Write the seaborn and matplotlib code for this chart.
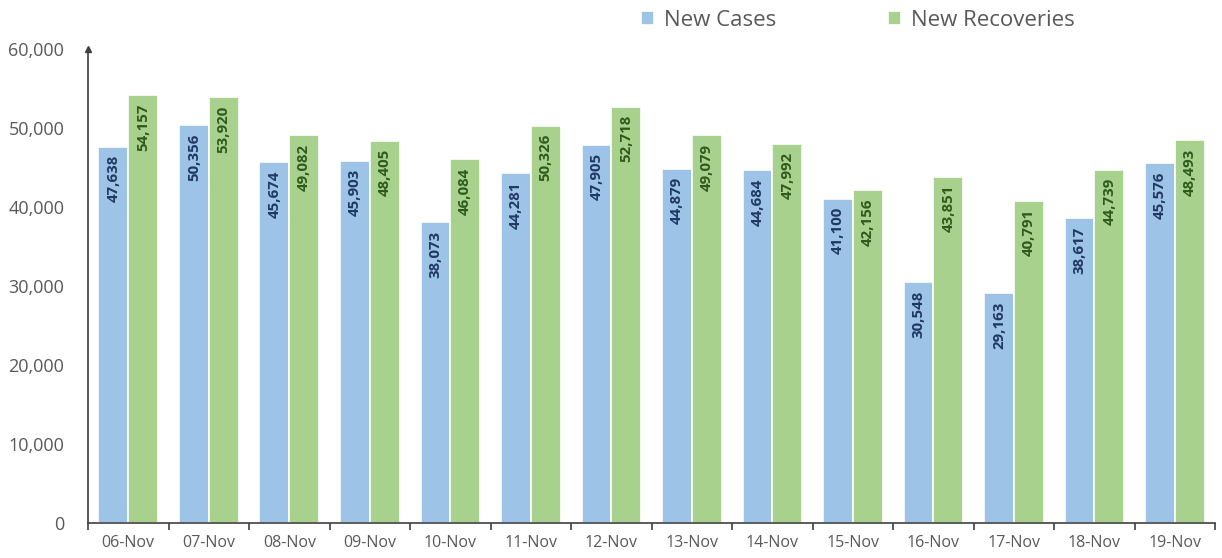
import matplotlib
matplotlib.use("Agg")
import matplotlib.pyplot as plt
import seaborn as sns
import pandas as pd

dates = ["06-Nov", "07-Nov", "08-Nov", "09-Nov", "10-Nov", "11-Nov", "12-Nov",
         "13-Nov", "14-Nov", "15-Nov", "16-Nov", "17-Nov", "18-Nov", "19-Nov"]
new_cases = [47638, 50356, 45674, 45903, 38073, 44281, 47905,
             44879, 44684, 41100, 30548, 29163, 38617, 45576]
new_recoveries = [54157, 53920, 49082, 48405, 46084, 50326, 52718,
                  49079, 47992, 42156, 43851, 40791, 44739, 48493]
series_names = ["New Cases", "New Recoveries"]
y_ticks = [0, 10000, 20000, 30000, 40000, 50000, 60000]

sns.set_theme(style="white")
plt.rcParams['font.family'] = ['Open Sans', 'DejaVu Sans']

df = pd.DataFrame({
    "date": dates * 2,
    "value": new_cases + new_recoveries,
    "series": [series_names[0]] * len(dates) + [series_names[1]] * len(dates),
})

bar_colors = ["#9DC3E6", "#A9D18E"]
text_colors = ["#1F3864", "#2E5A1C"]

fig = plt.figure(figsize=(12.22, 5.58), dpi=100)
ax = fig.add_axes([0.072, 0.062, 0.9225, 0.85])
sns.barplot(data=df, x="date", y="value", hue="series", palette=bar_colors,
            width=0.74, edgecolor="white", linewidth=1.2, ax=ax, legend=True,
            saturation=1)

for container, tc in zip(ax.containers, text_colors):
    labels = [f"{v:,.0f}" for v in container.datavalues]
    ax.bar_label(container, labels=labels, label_type="edge", padding=-6,
                 rotation=90, color=tc, fontsize=10.8, fontweight="bold")
    for t in ax.texts[-len(labels):]:
        t.set_va("top")

ax.set_ylim(0, 60000)
ax.set_xlim(-0.5, len(dates) - 0.5)
ax.set_yticks(y_ticks)
ax.set_yticklabels([f"{v:,}" for v in y_ticks])
ax.set_xlabel("")
ax.set_ylabel("")
for s in ["top", "right"]:
    ax.spines[s].set_visible(False)
for s in ["left", "bottom"]:
    ax.spines[s].set_color("#404040")
    ax.spines[s].set_linewidth(1.2)
ax.tick_params(axis="y", length=0, labelsize=13, labelcolor="#595959", pad=17)
ax.tick_params(axis="x", which="major", length=0, labelsize=11.5, labelcolor="#595959", pad=8)
# category separator ticks
ax.set_xticks([i + 0.5 for i in range(-1, len(dates))], minor=True)
ax.tick_params(axis="x", which="minor", bottom=True, length=5, width=1.2,
               color="#404040", direction="out")
ax.plot(0, 1, marker="^", color="#404040", markersize=4, transform=ax.transAxes, clip_on=False)

leg = ax.legend(loc="center", bbox_to_anchor=(0.683, 1.06), ncol=2, frameon=False,
                fontsize=16, handlelength=0.6, handleheight=0.6, columnspacing=5.0,
                handletextpad=0.45, labelcolor="#595959")

fig.savefig("out.png", dpi=100)
